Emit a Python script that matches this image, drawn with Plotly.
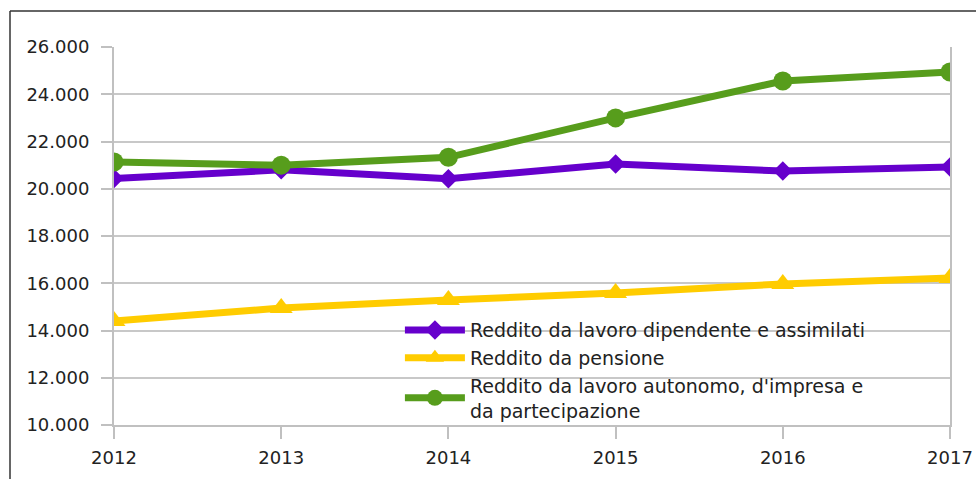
import plotly.graph_objects as go

years = [2012, 2013, 2014, 2015, 2016, 2017]
dipendente = [20430, 20800, 20420, 21050, 20750, 20920]
pensione = [14400, 14950, 15290, 15590, 15970, 16220]
autonomo = [21130, 21000, 21330, 23000, 24560, 24940]
names = ["Reddito da lavoro dipendente e assimilati",
         "Reddito da pensione",
         "Reddito da lavoro autonomo, d'impresa e<br>da partecipazione"]
y_ticks = [10000, 12000, 14000, 16000, 18000, 20000, 22000, 24000, 26000]
y_labels = ["10.000", "12.000", "14.000", "16.000", "18.000", "20.000", "22.000", "24.000", "26.000"]

fig = go.Figure()
fig.add_trace(go.Scatter(x=years, y=dipendente, name=names[0], mode="lines+markers",
                         line=dict(color="#6600cc", width=7),
                         marker=dict(symbol="diamond", size=15, color="#6600cc")))
fig.add_trace(go.Scatter(x=years, y=pensione, name=names[1], mode="lines+markers",
                         line=dict(color="#ffcc00", width=7),
                         marker=dict(symbol="triangle-up", size=20, color="#ffcc00")))
fig.add_trace(go.Scatter(x=years, y=autonomo, name=names[2], mode="lines+markers",
                         line=dict(color="#579d1c", width=7),
                         marker=dict(symbol="circle", size=19, color="#579d1c")))

fig.update_layout(
    width=976, height=479,
    margin=dict(l=114, r=26, t=47, b=54),
    paper_bgcolor="white", plot_bgcolor="white",
    font=dict(family="DejaVu Sans, sans-serif", size=18, color="#222222"),
    showlegend=True,
    legend=dict(x=0.342, y=0.301, xanchor="left", yanchor="top",
                bgcolor="rgba(0,0,0,0)", font=dict(size=19, color="#222222"),
                tracegroupgap=0, itemwidth=60),
    xaxis=dict(range=[2012, 2017], tickmode="array", tickvals=years,
               ticktext=[str(y) for y in years], showgrid=False,
               showline=True, linecolor="#c0c0c0", linewidth=2,
               ticks="outside", ticklen=12, tickcolor="#c0c0c0", tickwidth=2,
               ticklabelstandoff=3, zeroline=False, mirror=False,
               automargin=False, ticklabeloverflow="allow"),
    yaxis=dict(range=[10000, 26000], tickmode="array", tickvals=y_ticks, ticktext=y_labels,
               showgrid=True, gridcolor="#c8c8c8", gridwidth=2,
               showline=True, linecolor="#c0c0c0", linewidth=2, mirror=True,
               ticks="outside", ticklen=11, tickcolor="#c0c0c0", tickwidth=2,
               ticklabelstandoff=8, zeroline=False, automargin=False),
    shapes=[
        dict(type="line", xref="paper", yref="paper", x0=-0.1244, x1=1.1, y0=1.0952, y1=1.0952,
             line=dict(color="#333333", width=1.5)),
        dict(type="line", xref="paper", yref="paper", x0=-0.1244, x1=-0.1244, y0=1.0952, y1=-0.2,
             line=dict(color="#333333", width=1.5)),
    ],
)

fig.write_html("out.html", config={"displayModeBar": False},
               post_script="document.body.style.margin='0';document.body.style.overflow='hidden';document.documentElement.style.overflow='hidden';")
